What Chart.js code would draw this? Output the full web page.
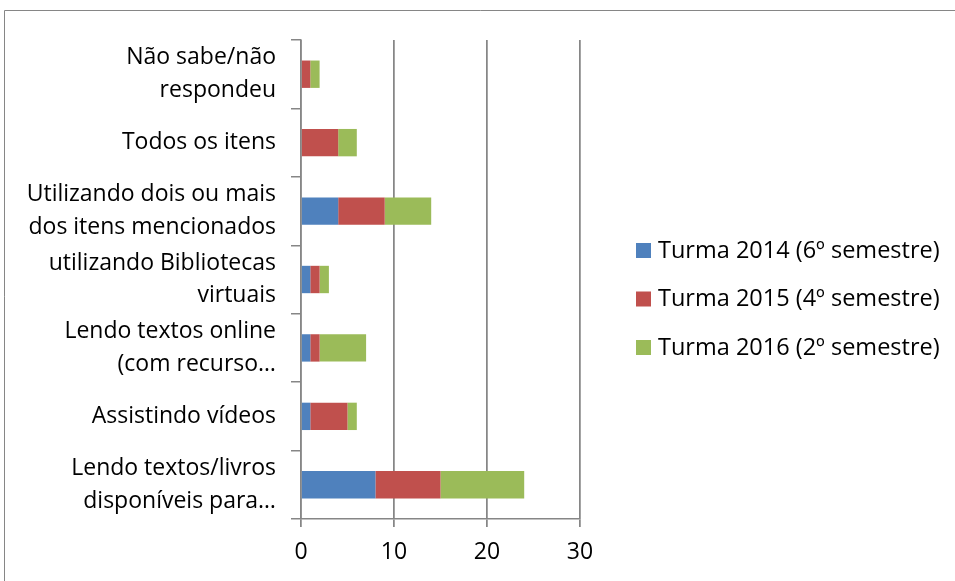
<!DOCTYPE html>
<html>
<head>
<meta charset="utf-8">
<script src="https://cdn.jsdelivr.net/npm/chart.js@4.4.1/dist/chart.umd.min.js"></script>
<style>
  html, body { margin: 0; padding: 0; background: #ffffff; }
  #wrap { width: 955px; height: 581px; position: relative; }
</style>
</head>
<body>
<div id="wrap"><canvas id="c" width="955" height="581"></canvas></div>
<script>
const categories = [
  ["Não sabe/não", "respondeu"],
  "Todos os itens",
  ["Utilizando dois ou mais", "dos itens mencionados"],
  ["utilizando Bibliotecas", "virtuais"],
  ["Lendo textos online", "(com recurso…"],
  "Assistindo vídeos",
  ["Lendo textos/livros", "disponíveis para…"]
];
const seriesNames = ["Turma 2014 (6º semestre)", "Turma 2015 (4º semestre)", "Turma 2016 (2º semestre)"];
const turma2014 = [0, 0, 4, 1, 1, 1, 8];
const turma2015 = [1, 4, 5, 1, 1, 4, 7];
const turma2016 = [1, 2, 5, 1, 5, 1, 9];
const xTicks = [0, 10, 20, 30];
const seriesColors = ["#4F81BD", "#C0504D", "#9BBB59"];

const FONT = "'Open Sans', Calibri, sans-serif";
const AXIS_COLOR = "#868686";

const framePlugin = {
  id: 'frame',
  beforeDraw(chart) {
    const ctx = chart.ctx;
    ctx.save();
    ctx.fillStyle = '#ffffff';
    ctx.fillRect(0, 0, chart.width, chart.height);
    ctx.strokeStyle = AXIS_COLOR;
    ctx.lineWidth = 1;
    ctx.beginPath();
    ctx.moveTo(4.5, chart.height + 5);
    ctx.lineTo(4.5, 10.5);
    ctx.lineTo(chart.width + 5, 10.5);
    ctx.stroke();
    ctx.restore();
  }
};

const legendPlugin = {
  id: 'sideLegend',
  afterDraw(chart) {
    const ctx = chart.ctx;
    ctx.save();
    ctx.font = "23.5px " + FONT;
    ctx.textBaseline = 'middle';
    ctx.textAlign = 'left';
    const startY = 250, step = 48.5;
    chart.data.datasets.forEach((ds, i) => {
      const cy = startY + i * step;
      ctx.fillStyle = ds.backgroundColor;
      ctx.fillRect(636, cy - 7, 15, 15);
      ctx.fillStyle = '#000000';
      ctx.fillText(ds.label, 658, cy + 1);
    });
    ctx.restore();
  }
};

const seriesData = [turma2014, turma2015, turma2016];

new Chart(document.getElementById('c'), {
  type: 'bar',
  data: {
    labels: categories,
    datasets: seriesNames.map((name, i) => ({
      label: name,
      data: seriesData[i],
      backgroundColor: seriesColors[i],
      borderWidth: 0,
      categoryPercentage: 1.0,
      barPercentage: 0.4
    }))
  },
  options: {
    indexAxis: 'y',
    responsive: false,
    animation: false,
    layout: { padding: { top: 40, right: 375, bottom: 0, left: 10 } },
    plugins: {
      legend: { display: false },
      tooltip: { enabled: false }
    },
    scales: {
      x: {
        stacked: true,
        min: 0,
        max: 30,
        afterBuildTicks(scale) { scale.ticks = xTicks.map(v => ({ value: v })); },
        afterFit(scale) { scale.height = 62; },
        border: { display: true, color: AXIS_COLOR, width: 1.5 },
        grid: { color: AXIS_COLOR, lineWidth: 1.75, tickLength: 8, drawTicks: true },
        ticks: { color: '#000000', font: { family: FONT, size: 23 }, padding: 12, maxRotation: 0 }
      },
      y: {
        stacked: true,
        afterFit(scale) { scale.width = 291; scale.paddingTop = 0; scale.paddingBottom = 0; },
        border: { display: true, color: AXIS_COLOR, width: 1.5 },
        grid: { drawOnChartArea: false, drawTicks: true, tickLength: 10, color: AXIS_COLOR, lineWidth: 1.5, offset: true },
        ticks: { color: '#000000', font: { family: FONT, size: 23, lineHeight: 1.43 }, padding: 15, autoSkip: false }
      }
    }
  },
  plugins: [framePlugin, legendPlugin]
});
</script>
</body>
</html>
